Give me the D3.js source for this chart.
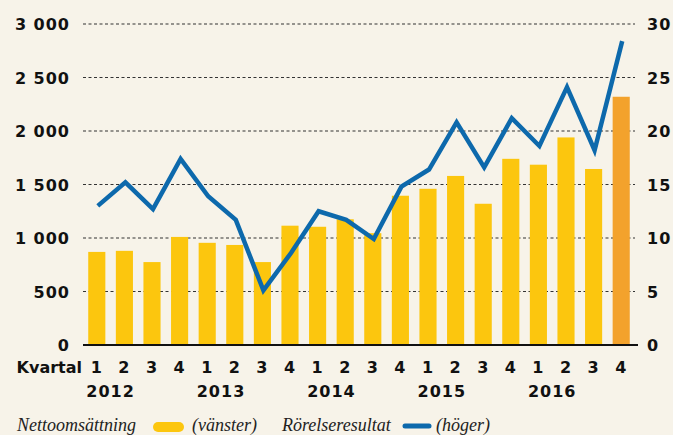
<!DOCTYPE html>
<html>
<head>
<meta charset="utf-8">
<script src="https://cdn.jsdelivr.net/npm/d3@7"></script>
<style>
  body { margin: 0; background: #f7f3e9; }
  svg { display: block; }
  .tick-label { font-family: "DejaVu Sans", sans-serif; font-weight: bold; font-size: 16px; fill: #111; letter-spacing: 1px; }
  .legend { font-family: "Liberation Serif", serif; font-style: italic; font-size: 18px; fill: #222; }
</style>
</head>
<body>
<script>
// quarters 2012 Q1 .. 2016 Q4
var quarters = ["1","2","3","4","1","2","3","4","1","2","3","4","1","2","3","4","1","2","3","4"];
var years = ["2012", "2013", "2014", "2015", "2016"];
// Nettoomsättning (vänster axel)
var netSales = [870, 880, 775, 1010, 955, 935, 775, 1115, 1105, 1175, 1045, 1395, 1460, 1580, 1320, 1740, 1685, 1940, 1645, 2320];
// Rörelseresultat (höger axel)
var opResult = [13.0, 15.2, 12.7, 17.4, 13.9, 11.7, 5.1, 8.6, 12.5, 11.7, 9.9, 14.8, 16.4, 20.8, 16.6, 21.2, 18.6, 24.1, 18.2, 28.4];
var leftTicks = [0, 500, 1000, 1500, 2000, 2500, 3000];
var rightTicks = [0, 5, 10, 15, 20, 25, 30];

var width = 673, height = 435;
var plotLeft = 83, plotRight = 635, plotTop = 24, plotBottom = 345;

var svg = d3.select("body").append("svg")
    .attr("width", width)
    .attr("height", height);

var idx = d3.range(quarters.length);

var x = d3.scaleBand()
    .domain(idx)
    .range([plotLeft, plotRight])
    .paddingInner(0.38)
    .paddingOuter(0.19);

var yL = d3.scaleLinear().domain([0, 3000]).range([plotBottom, plotTop]);
var yR = d3.scaleLinear().domain([0, 30]).range([plotBottom, plotTop]);

// grid lines
svg.append("g").selectAll("line")
    .data(leftTicks.slice(1))
    .enter().append("line")
    .attr("x1", plotLeft).attr("x2", plotRight)
    .attr("y1", function(d) { return yL(d); })
    .attr("y2", function(d) { return yL(d); })
    .attr("stroke", "#333")
    .attr("stroke-width", 1.2)
    .attr("stroke-dasharray", "3,2.5");

// bars
svg.append("g").selectAll("rect")
    .data(netSales)
    .enter().append("rect")
    .attr("x", function(d, i) { return x(i); })
    .attr("y", function(d) { return yL(d); })
    .attr("width", x.bandwidth())
    .attr("height", function(d) { return plotBottom - yL(d); })
    .attr("fill", function(d, i) { return i == netSales.length - 1 ? "#f3a22c" : "#fcc60e"; });

// baseline
svg.append("line")
    .attr("x1", plotLeft).attr("x2", plotRight + 3)
    .attr("y1", plotBottom).attr("y2", plotBottom)
    .attr("stroke", "#111")
    .attr("stroke-width", 2);

// line
var line = d3.line()
    .x(function(d, i) { return x(i) + x.bandwidth() / 2 + 1; })
    .y(function(d) { return yR(d); });

svg.append("path")
    .datum(opResult)
    .attr("d", line)
    .attr("fill", "none")
    .attr("stroke", "#0d69ac")
    .attr("stroke-width", 4.5)
    .attr("stroke-linejoin", "miter");

// left axis labels
svg.append("g").selectAll("text")
    .data(leftTicks)
    .enter().append("text")
    .attr("class", "tick-label")
    .attr("x", 70)
    .attr("y", function(d) { return yL(d) + 6; })
    .attr("text-anchor", "end")
    .text(function(d) { return d >= 1000 ? d3.format(",")(d).replace(",", " ") : d; });

// right axis labels
svg.append("g").selectAll("text")
    .data(rightTicks)
    .enter().append("text")
    .attr("class", "tick-label")
    .attr("x", 647)
    .attr("y", function(d) { return yR(d) + 6; })
    .text(function(d) { return d; });

// quarter labels
svg.append("text")
    .attr("class", "tick-label")
    .attr("x", 82).attr("y", 373)
    .attr("text-anchor", "end")
    .style("letter-spacing", "0px")
    .text("Kvartal");

svg.append("g").selectAll("text")
    .data(quarters)
    .enter().append("text")
    .attr("class", "tick-label")
    .attr("x", function(d, i) { return x(i) + x.bandwidth() / 2; })
    .attr("y", 373)
    .attr("text-anchor", "middle")
    .text(function(d) { return d; });

svg.append("g").selectAll("text")
    .data(years)
    .enter().append("text")
    .attr("class", "tick-label")
    .attr("x", function(d, i) { return (x(i * 4) + x(i * 4 + 1)) / 2 + x.bandwidth() / 2; })
    .attr("y", 397)
    .attr("text-anchor", "middle")
    .text(function(d) { return d; });

// legend
var lg = svg.append("g");
lg.append("text").attr("class", "legend").attr("x", 17).attr("y", 431).text("Nettoomsättning");
lg.append("rect").attr("x", 153).attr("y", 422).attr("width", 31).attr("height", 10).attr("rx", 5).attr("fill", "#fcc60e");
lg.append("text").attr("class", "legend").attr("x", 192).attr("y", 431).text("(vänster)");
lg.append("text").attr("class", "legend").attr("x", 282).attr("y", 431).text("Rörelseresultat");
lg.append("line").attr("x1", 405).attr("x2", 429).attr("y1", 426).attr("y2", 426)
    .attr("stroke", "#0d69ac").attr("stroke-width", 5).attr("stroke-linecap", "round");
lg.append("text").attr("class", "legend").attr("x", 436).attr("y", 431).text("(höger)");
</script>
</body>
</html>
